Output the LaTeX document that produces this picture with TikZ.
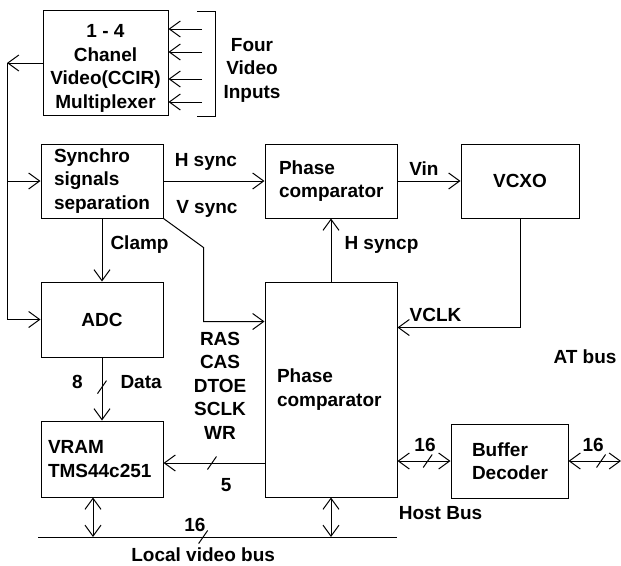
\documentclass[tikz,border=0pt]{standalone}
\usepackage{fontspec}
\setmainfont{Liberation Sans}
\usepackage{tikz}
\usetikzlibrary{arrows.meta, positioning, calc}
\tikzset{
  blk/.style={
    rectangle, draw=black, line width=1pt,
    inner sep=3pt
  },
  arr/.style={line width=1pt, -{Straight Barb[length=11pt,width=16pt]}},
  darr/.style={line width=1pt, {Straight Barb[length=11pt,width=16pt]}-{Straight Barb[length=11pt,width=16pt]}},
  ln/.style={line width=1pt},
  busmark/.pic={\draw[line width=1pt] (-4.5,6.5) -- (4.5,-6.5);}
}
\begin{document}
\begin{tikzpicture}[x=1pt, y=-1pt,
  every node/.style={font=\bfseries\fontsize{19}{23.5}\selectfont, inner sep=3pt}]

  \useasboundingbox (0,0) rectangle (621,565);

  % blocks
  \node[blk, minimum width=125pt, minimum height=96pt, align=center] (mux) at (105.5,63)
    {\rule{0pt}{24pt}1 - 4\\Chanel\\Video(CCIR)\\Multiplexer};
  \node[blk, minimum width=122pt, minimum height=74pt, inner xsep=13pt, text width=96pt, align=left]
    (sync) at (102,181) {Synchro\\signals\\separation};
  \node[blk, minimum width=132pt, minimum height=74pt, inner xsep=14pt, text width=104pt, align=left]
    (phc) at (331,181) {Phase\\comparator};
  \node[blk, minimum width=118pt, minimum height=74pt] (vcxo) at (520,181) {VCXO};
  \node[blk, minimum width=122pt, minimum height=75pt] (adc) at (102,319.5) {ADC};
  \node[blk, minimum width=132pt, minimum height=215pt, inner xsep=12pt, text width=108pt, align=left]
    (big) at (331,389.5) {Phase\\comparator};
  \node[blk, minimum width=122pt, minimum height=76pt, inner xsep=7pt, text width=108pt, align=left]
    (vram) at (102,459) {VRAM\\TMS44c251};
  \node[blk, minimum width=117pt, minimum height=74pt, inner xsep=21pt, text width=75pt, align=left]
    (buf) at (509.5,461) {Buffer\\Decoder};

  % video inputs
  \foreach \yy [count=\i] in {29,52,79,102} {
    \coordinate (in\i) at (202,\yy);
    \draw[arr] (in\i) -- (in\i -| mux.east);
  }
  \draw[ln] (197,11) -- (215,11) -- (215,116) -- (197,116);
  \node[align=center] (vinputs) at (252,70) {Four\\Video\\Inputs};

  % video line on the left
  \coordinate (lbus) at (7,0);
  \draw[arr] (mux.west) -- (mux.west -| lbus);
  \draw[arr] (mux.west -| lbus) |- (adc.west);
  \draw[arr] (lbus |- sync.west) -- (sync.west);

  % sync signals
  \draw[arr] (sync.east) --
    node[pos=0.42, above=7.2pt] (hsync) {H sync}
    node[pos=0.43, below=16.2pt] (vsync) {V sync}
    (phc.west);
  \draw[arr] (sync.south east) -- ++(40,29) |- ([yshift=-40pt]big.north west);
  \draw[arr] (sync.south) -- node[pos=0.42, right=5pt] (clamp) {Clamp} (adc.north);
  \draw[arr] (phc.east) -- node[pos=0.42, above=2.2pt] (vin) {Vin} (vcxo.west);
  \draw[arr] (big.north) -- node[pos=0.58, right=10pt] (hsyncp) {H syncp} (phc.south);
  \draw[arr] (vcxo.south) |- node[pos=0.845, above=2.2pt] (vclk) {VCLK}
    ([yshift=-46pt]big.north east);

  % data
  \draw[arr] (adc.south) --
    node[pos=0.39, left=15.7pt] (n8) {8}
    node[pos=0.39, right=15pt] (data) {Data}
    coordinate[pos=0.47] (dmark)
    (vram.north);
  \pic at (dmark) {busmark};

  % control lines
  \coordinate (v5) at ([yshift=-4pt]vram.east);
  \draw[arr] (v5 -| big.west) --
    node[pos=0.44, above=20.2pt, align=center] (ctl) {RAS\\CAS\\DTOE\\SCLK\\WR}
    node[pos=0.38, below=12.2pt] (n5) {5}
    coordinate[pos=0.52] (cmark)
    (v5);
  \pic at (cmark) {busmark};

  % host bus
  \draw[darr] (buf.west -| big.east) --
    node[pos=0.52, above=6.2pt] (n16h) {16}
    coordinate[pos=0.57] (hmark)
    (buf.west);
  \pic at (hmark) {busmark};
  \node[below=5pt of buf.south west, xshift=-10pt] (hostbus) {Host Bus};

  % AT bus
  \coordinate (atend) at (621,461);
  \draw[darr] (buf.east) --
    node[pos=0.47, above=6.2pt] (n16a) {16}
    coordinate[pos=0.62] (amark)
    (atend);
  \pic at (amark) {busmark};
  \node (atbus) at (585,357) {AT bus};

  % local video bus
  \coordinate (lvbL) at (38,537);
  \coordinate (lvbR) at (397,537);
  \draw[ln] (lvbL) --
    node[pos=0.437, above=2.2pt] (n16l) {16}
    node[pos=0.46, below=7.5pt] (lvb) {Local video bus}
    coordinate[pos=0.46] (lmark)
    (lvbR);
  \pic at (lmark) {busmark};
  \coordinate (vb) at ([xshift=-9pt]vram.south);
  \draw[darr] (vb) -- (vb |- lvbL);
  \draw[darr] (big.south) -- (big.south |- lvbL);

\end{tikzpicture}
\end{document}
